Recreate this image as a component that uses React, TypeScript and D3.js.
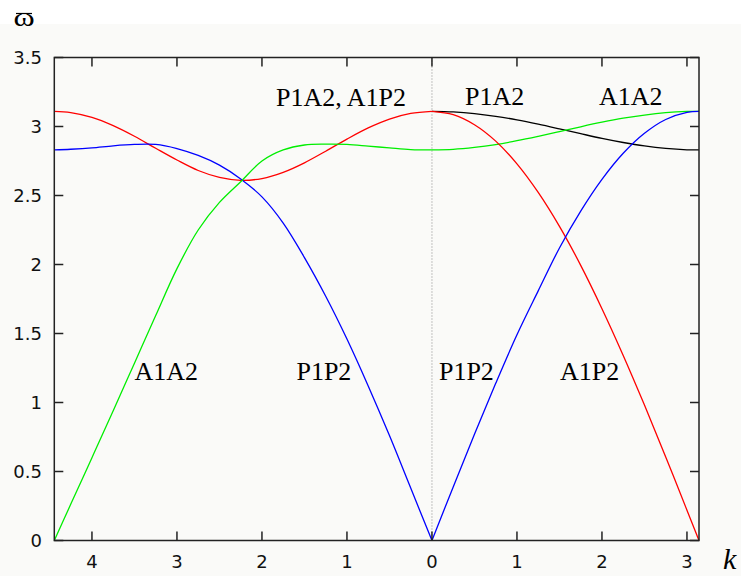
import * as d3 from 'd3';
import { useEffect, useRef } from 'react';

// left branch: k measured from 0 out to the left edge (pi*sqrt2)
const kLeft = [0, 0.25, 0.5, 0.75, 1.0, 1.25, 1.5, 1.75, 2.0, 2.25, 2.5, 2.75, 3.0, 3.25, 3.5, 3.75, 4.0, 4.25, 4.443];
const redLeft = [3.11, 3.095, 3.054, 2.99, 2.909, 2.821, 2.737, 2.668, 2.623, 2.61, 2.631, 2.681, 2.757, 2.842, 2.929, 3.006, 3.066, 3.101, 3.11];
const blueLeft = [0, 0.38, 0.76, 1.12, 1.46, 1.77, 2.05, 2.3, 2.49, 2.62, 2.72, 2.79, 2.84, 2.87, 2.87, 2.86, 2.845, 2.835, 2.83];
const greenLeft = [2.83, 2.833, 2.845, 2.858, 2.87, 2.872, 2.866, 2.83, 2.75, 2.6, 2.45, 2.25, 1.97, 1.63, 1.285, 0.94, 0.6, 0.262, 0];

// right branch: k from 0 to pi
const kRight = [0, 0.25, 0.5, 0.75, 1.0, 1.25, 1.5, 1.75, 2.0, 2.25, 2.5, 2.75, 3.0, 3.1416];
const redRight = [3.11, 3.086, 3.013, 2.894, 2.729, 2.522, 2.276, 1.994, 1.68, 1.341, 0.981, 0.605, 0.22, 0];
const blueRight = [0, 0.388, 0.77, 1.139, 1.491, 1.809, 2.12, 2.387, 2.617, 2.806, 2.951, 3.051, 3.102, 3.11];
const blackRight = [3.11, 3.106, 3.094, 3.074, 3.048, 3.017, 2.983, 2.948, 2.914, 2.884, 2.859, 2.841, 2.831, 2.83];
const greenRight = [2.83, 2.834, 2.848, 2.869, 2.897, 2.929, 2.963, 2.998, 3.031, 3.06, 3.083, 3.1, 3.109, 3.11];

const xTicks = [-4, -3, -2, -1, 0, 1, 2, 3];
const yTicks = [0, 0.5, 1, 1.5, 2, 2.5, 3, 3.5];

const labels = [
  { text: 'P1A2, A1P2', x: -1.835, y: 3.15 },
  { text: 'P1A2', x: 0.388, y: 3.155 },
  { text: 'A1A2', x: 1.965, y: 3.155 },
  { text: 'A1A2', x: -3.5, y: 1.163 },
  { text: 'P1P2', x: -1.594, y: 1.163 },
  { text: 'P1P2', x: 0.082, y: 1.163 },
  { text: 'A1P2', x: 1.506, y: 1.163 },
];

const serif = "'Liberation Serif', 'Times New Roman', 'DejaVu Serif', serif";

const App = () => {
  const ref = useRef(null);

  useEffect(() => {
    const W = 741,
      H = 576;
    const left = 54.3,
      right = 699,
      top = 57.5,
      bottom = 540.5;

    const svg = d3.select(ref.current);
    svg.selectAll('*').remove();
    svg.attr('width', W).attr('height', H);

    svg.append('rect').attr('width', W).attr('height', H).attr('fill', '#fafaf8');
    svg.append('rect').attr('width', W).attr('height', 24).attr('fill', '#ffffff');

    const x = d3.scaleLinear().domain([-4.443, Math.PI]).range([left, right]);
    const y = d3.scaleLinear().domain([0, 3.5]).range([bottom, top]);

    // dotted line at k = 0
    svg
      .append('line')
      .attr('x1', x(0))
      .attr('x2', x(0))
      .attr('y1', top)
      .attr('y2', bottom)
      .attr('stroke', '#888')
      .attr('stroke-width', 1)
      .attr('stroke-dasharray', '1,2');

    const line = d3
      .line()
      .x((d) => x(d[0]))
      .y((d) => y(d[1]))
      .curve(d3.curveCatmullRom.alpha(0.5));

    const series = [
      { k: kLeft, v: redLeft, color: '#ff0000', side: -1 },
      { k: kLeft, v: blueLeft, color: '#0000ff', side: -1 },
      { k: kLeft, v: greenLeft, color: '#00ee00', side: -1 },
      { k: kRight, v: blackRight, color: '#000000', side: 1 },
      { k: kRight, v: greenRight, color: '#00ee00', side: 1 },
      { k: kRight, v: redRight, color: '#ff0000', side: 1 },
      { k: kRight, v: blueRight, color: '#0000ff', side: 1 },
    ];

    series.forEach((s) => {
      const pts = s.k.map((k, i) => [s.side * k, s.v[i]]).sort((a, b) => a[0] - b[0]);
      svg
        .append('path')
        .attr('d', line(pts))
        .attr('fill', 'none')
        .attr('stroke', s.color)
        .attr('stroke-width', 1.3);
    });

    // frame
    svg
      .append('rect')
      .attr('x', left)
      .attr('y', top)
      .attr('width', right - left)
      .attr('height', bottom - top)
      .attr('fill', 'none')
      .attr('stroke', '#222')
      .attr('stroke-width', 1.5);

    // ticks, inward on all sides
    const tickLen = 9;
    xTicks.forEach((t) => {
      svg.append('line').attr('x1', x(t)).attr('x2', x(t)).attr('y1', bottom).attr('y2', bottom - tickLen)
        .attr('stroke', '#222').attr('stroke-width', 1.5);
      svg.append('line').attr('x1', x(t)).attr('x2', x(t)).attr('y1', top).attr('y2', top + tickLen)
        .attr('stroke', '#222').attr('stroke-width', 1.5);
      svg
        .append('text')
        .attr('x', x(t))
        .attr('y', 568)
        .attr('text-anchor', 'middle')
        .style('font-family', 'DejaVu Sans')
        .style('font-size', '18px')
        .style('fill', '#111')
        .text(Math.abs(t));
    });
    yTicks.forEach((t) => {
      svg.append('line').attr('x1', left).attr('x2', left + tickLen).attr('y1', y(t)).attr('y2', y(t))
        .attr('stroke', '#222').attr('stroke-width', 1.5);
      svg.append('line').attr('x1', right).attr('x2', right - tickLen).attr('y1', y(t)).attr('y2', y(t))
        .attr('stroke', '#222').attr('stroke-width', 1.5);
      svg
        .append('text')
        .attr('x', 42)
        .attr('y', y(t) + 6.5)
        .attr('text-anchor', 'end')
        .style('font-family', 'DejaVu Sans')
        .style('font-size', '18px')
        .style('fill', '#111')
        .text(t);
    });

    // branch labels
    labels.forEach((l) => {
      svg
        .append('text')
        .attr('x', x(l.x))
        .attr('y', y(l.y))
        .style('font-family', serif)
        .style('font-size', '26px')
        .style('fill', '#000')
        .text(l.text);
    });

    // axis titles
    svg
      .append('text')
      .attr('transform', 'translate(13.5,25.5) scale(1.15,0.9)')
      .style('font-family', serif)
      .style('font-size', '28px')
      .text('ω');
    svg.append('line').attr('x1', 16).attr('x2', 32).attr('y1', 13.5).attr('y2', 13.5)
      .attr('stroke', '#000').attr('stroke-width', 1.2);
    svg
      .append('text')
      .attr('x', 723)
      .attr('y', 569)
      .style('font-family', serif)
      .style('font-style', 'italic')
      .style('font-size', '30px')
      .text('k');
  }, []);

  return <svg ref={ref} style={{ position: 'absolute', left: 0, top: 0 }}></svg>;
};

export default App;
